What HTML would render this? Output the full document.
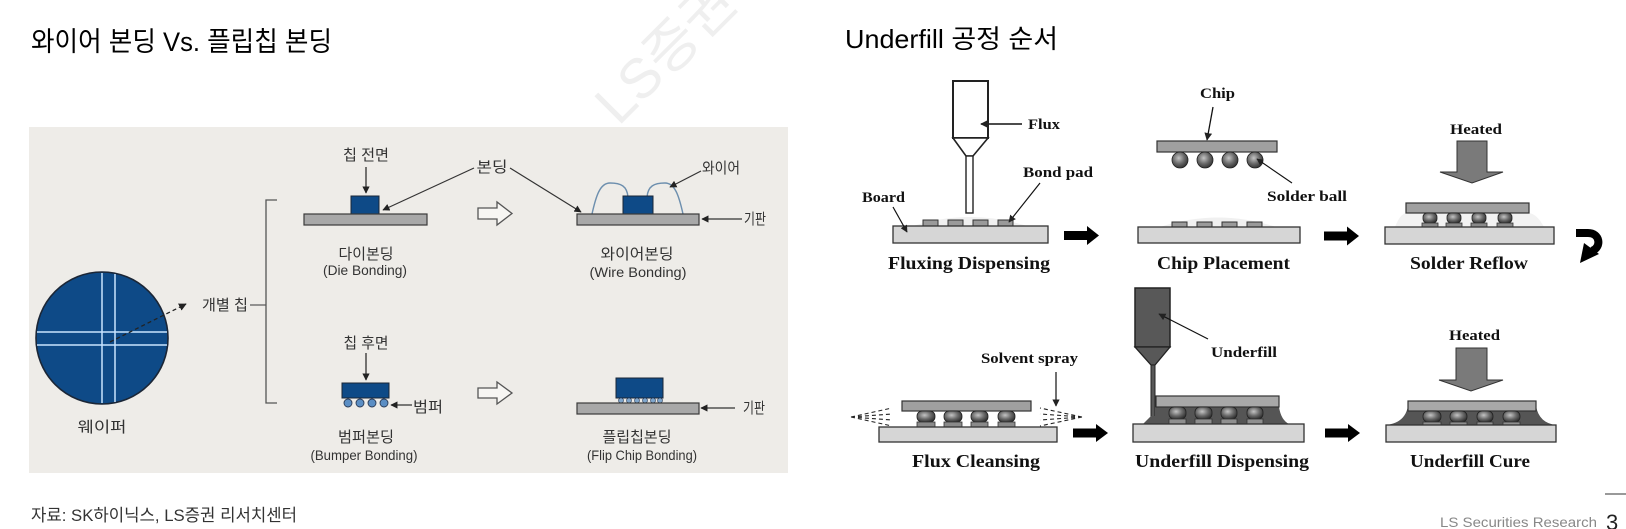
<!DOCTYPE html>
<html><head><meta charset="utf-8">
<style>
html,body{margin:0;padding:0;background:#fff;width:1626px;height:529px;overflow:hidden}
svg{display:block}
.k{font-family:"Liberation Sans","Noto Sans CJK KR",sans-serif;fill:#333}
.s{font-family:"Liberation Serif",serif;font-weight:bold;fill:#111}
</style></head><body>
<svg width="1626" height="529" viewBox="0 0 1626 529" xmlns="http://www.w3.org/2000/svg">
<defs>
<marker id="ah" viewBox="0 0 10 10" refX="9" refY="5" markerWidth="6" markerHeight="6" orient="auto"><path d="M0,0 L10,5 L0,10 z" fill="#222"/></marker>
<radialGradient id="ball" cx="0.42" cy="0.38" r="0.65"><stop offset="0" stop-color="#c4c4c4"/><stop offset="0.55" stop-color="#6a6a6a"/><stop offset="1" stop-color="#303030"/></radialGradient>
</defs>
<rect width="1626" height="529" fill="#fff"/>

<!-- watermark -->
<text x="665" y="72" transform="rotate(-45 665 52)" font-family="Liberation Sans,'Noto Sans CJK KR',sans-serif" font-size="56" fill="#efefef" text-anchor="middle">LS증권</text>

<!-- titles -->
<text x="31" y="51" class="k" style="fill:#000" font-size="27" textLength="301" lengthAdjust="spacingAndGlyphs">와이어 본딩 Vs. 플립칩 본딩</text>
<text x="845" y="48" class="k" style="fill:#000" font-size="26" textLength="213" lengthAdjust="spacingAndGlyphs">Underfill 공정 순서</text>

<!-- LEFT PANEL -->
<rect x="29" y="127" width="759" height="346" fill="#eeece8"/>

<!-- wafer -->
<circle cx="102" cy="338" r="66" fill="#0e4a87" stroke="#1b2636" stroke-width="1.6"/>
<g stroke="#c8e4ff" stroke-width="1.5">
<line x1="102" y1="273" x2="102" y2="403"/>
<line x1="115" y1="274" x2="115" y2="402"/>
<line x1="37" y1="332" x2="167" y2="332"/>
<line x1="37" y1="345" x2="167" y2="345"/>
</g>
<line x1="110" y1="342" x2="186" y2="304" stroke="#222" stroke-width="1.3" stroke-dasharray="4,3" marker-end="url(#ah)"/>
<text x="102" y="432" class="k" font-size="15" text-anchor="middle" textLength="49" lengthAdjust="spacingAndGlyphs">웨이퍼</text>
<text x="225" y="310" class="k" font-size="15" text-anchor="middle" textLength="46" lengthAdjust="spacingAndGlyphs">개별 칩</text>
<line x1="250" y1="305" x2="266" y2="305" stroke="#555" stroke-width="1.2"/>
<path d="M277,200 L266,200 L266,403 L277,403" fill="none" stroke="#555" stroke-width="1.3"/>

<!-- die bonding -->
<text x="366" y="160" class="k" font-size="15" text-anchor="middle" textLength="46" lengthAdjust="spacingAndGlyphs">칩 전면</text>
<line x1="366" y1="167" x2="366" y2="193" stroke="#222" stroke-width="1.2" marker-end="url(#ah)"/>
<rect x="351" y="196" width="28" height="18" fill="#0e4a87" stroke="#1b2636" stroke-width="1"/>
<rect x="304" y="214" width="123" height="11" fill="#a8a8a8" stroke="#3a3a3a" stroke-width="1.2"/>
<text x="366" y="259" class="k" font-size="15" text-anchor="middle" textLength="55" lengthAdjust="spacingAndGlyphs">다이본딩</text>
<text x="365" y="275" class="k" font-size="14" text-anchor="middle" textLength="84" lengthAdjust="spacingAndGlyphs">(Die Bonding)</text>

<!-- bonding label -->
<text x="492" y="172" class="k" font-size="15" text-anchor="middle" textLength="31" lengthAdjust="spacingAndGlyphs">본딩</text>
<line x1="474" y1="168" x2="383" y2="210" stroke="#333" stroke-width="1.2" marker-end="url(#ah)"/>
<line x1="510" y1="168" x2="581" y2="212" stroke="#333" stroke-width="1.2" marker-end="url(#ah)"/>

<!-- hollow arrows -->
<path d="M478,208 L497,208 L497,202 L512,213.5 L497,225 L497,219 L478,219 Z" fill="#f7f6f3" stroke="#555" stroke-width="1.3"/>
<path d="M478,388 L497,388 L497,382 L512,393 L497,404 L497,398 L478,398 Z" fill="#f7f6f3" stroke="#555" stroke-width="1.3"/>

<!-- wire bonding -->
<path d="M592,214 C596,196 600,183 610,183 C621,183 627,186 628,197" fill="none" stroke="#6d8fae" stroke-width="1.4"/>
<path d="M683,214 C679,196 675,183 665,183 C654,183 648,186 647,197" fill="none" stroke="#6d8fae" stroke-width="1.4"/>
<rect x="623" y="196" width="30" height="18" fill="#0e4a87" stroke="#1b2636" stroke-width="1"/>
<rect x="577" y="214" width="122" height="11" fill="#a8a8a8" stroke="#3a3a3a" stroke-width="1.2"/>
<text x="721" y="173" class="k" font-size="15" text-anchor="middle" textLength="38" lengthAdjust="spacingAndGlyphs">와이어</text>
<line x1="701" y1="171" x2="670" y2="187" stroke="#333" stroke-width="1.2" marker-end="url(#ah)"/>
<line x1="742" y1="219" x2="702" y2="219" stroke="#333" stroke-width="1.2" marker-end="url(#ah)"/>
<text x="755" y="224" class="k" font-size="15" text-anchor="middle" textLength="22" lengthAdjust="spacingAndGlyphs">기판</text>
<text x="637" y="259" class="k" font-size="15" text-anchor="middle" textLength="73" lengthAdjust="spacingAndGlyphs">와이어본딩</text>
<text x="638" y="277" class="k" font-size="14" text-anchor="middle" textLength="97" lengthAdjust="spacingAndGlyphs">(Wire Bonding)</text>

<!-- bumper bonding -->
<text x="366" y="348" class="k" font-size="15" text-anchor="middle" textLength="45" lengthAdjust="spacingAndGlyphs">칩 후면</text>
<line x1="366" y1="353" x2="366" y2="380" stroke="#222" stroke-width="1.2" marker-end="url(#ah)"/>
<rect x="342" y="383" width="47" height="15" fill="#0e4a87" stroke="#1b2636" stroke-width="1"/>
<g fill="#5b8ec4" stroke="#2a3a55" stroke-width="0.9">
<circle cx="348" cy="403" r="4"/><circle cx="360" cy="403" r="4"/><circle cx="372" cy="403" r="4"/><circle cx="384" cy="403" r="4"/>
</g>
<line x1="412" y1="405" x2="391" y2="405" stroke="#333" stroke-width="1.2" marker-end="url(#ah)"/>
<text x="428" y="412" class="k" font-size="15" text-anchor="middle" textLength="30" lengthAdjust="spacingAndGlyphs">범퍼</text>
<text x="366" y="442" class="k" font-size="15" text-anchor="middle" textLength="56" lengthAdjust="spacingAndGlyphs">범퍼본딩</text>
<text x="364" y="460" class="k" font-size="14" text-anchor="middle" textLength="107" lengthAdjust="spacingAndGlyphs">(Bumper Bonding)</text>

<!-- flip chip bonding -->
<rect x="616" y="378" width="47" height="20" fill="#0e4a87" stroke="#1b2636" stroke-width="1"/>
<g fill="#7fa6cc" stroke="#2a3a55" stroke-width="0.6">
<circle cx="621" cy="400.5" r="2.5"/><circle cx="629" cy="400.5" r="2.5"/><circle cx="637" cy="400.5" r="2.5"/><circle cx="645" cy="400.5" r="2.5"/><circle cx="653" cy="400.5" r="2.5"/><circle cx="660" cy="400.5" r="2.5"/>
</g>
<rect x="577" y="403" width="122" height="11" fill="#a8a8a8" stroke="#3a3a3a" stroke-width="1.2"/>
<line x1="735" y1="408" x2="701" y2="408" stroke="#333" stroke-width="1.2" marker-end="url(#ah)"/>
<text x="754" y="413" class="k" font-size="15" text-anchor="middle" textLength="22" lengthAdjust="spacingAndGlyphs">기판</text>
<text x="637" y="442" class="k" font-size="15" text-anchor="middle" textLength="69" lengthAdjust="spacingAndGlyphs">플립칩본딩</text>
<text x="642" y="460" class="k" font-size="14" text-anchor="middle" textLength="110" lengthAdjust="spacingAndGlyphs">(Flip Chip Bonding)</text>

<!-- RIGHT DIAGRAM -->
<!-- Fluxing Dispensing -->
<rect x="953" y="81" width="35" height="57" fill="#fff" stroke="#222" stroke-width="2"/>
<polygon points="953,138 988,138 973,156 966,156" fill="#fff" stroke="#222" stroke-width="1.6"/>
<rect x="966" y="156" width="7" height="57" fill="#fff" stroke="#222" stroke-width="1.4"/>
<line x1="1022" y1="124" x2="981" y2="124" stroke="#111" stroke-width="1.5" marker-end="url(#ah)"/>
<text x="1028" y="129" class="s" font-size="15" textLength="32" lengthAdjust="spacingAndGlyphs">Flux</text>
<text x="1023" y="177" class="s" font-size="15" textLength="70" lengthAdjust="spacingAndGlyphs">Bond pad</text>
<text x="862" y="202" class="s" font-size="15" textLength="43" lengthAdjust="spacingAndGlyphs">Board</text>
<path d="M913,226 Q970,208 1027,226 Z" fill="#f0f0f0"/>
<g fill="#9a9a9a" stroke="#333" stroke-width="1">
<rect x="923" y="220" width="15" height="6"/><rect x="948" y="220" width="15" height="6"/><rect x="973" y="220" width="15" height="6"/><rect x="998" y="220" width="15" height="6"/>
</g>
<rect x="893" y="226" width="155" height="17" fill="#d6d6d6" stroke="#333" stroke-width="1.3"/>
<line x1="1040" y1="183" x2="1009" y2="222" stroke="#111" stroke-width="1.2" marker-end="url(#ah)"/>
<line x1="893" y1="207" x2="907" y2="232" stroke="#111" stroke-width="1.2" marker-end="url(#ah)"/>
<text x="888" y="269" class="s" font-size="18" textLength="162" lengthAdjust="spacingAndGlyphs">Fluxing Dispensing</text>

<!-- black arrows -->
<g fill="#000">
<rect x="1064" y="231" width="25" height="9"/><polygon points="1087,226 1099,235.5 1087,245"/>
<rect x="1324" y="231.5" width="25" height="9"/><polygon points="1347,226.5 1359,236 1347,245.5"/>
<rect x="1073" y="428.5" width="25" height="9"/><polygon points="1096,424 1108,433 1096,442"/>
<rect x="1325" y="428.5" width="25" height="9"/><polygon points="1348,424 1360,433 1348,442"/>
</g>
<!-- curved arrow -->
<path d="M1576,233 L1588,233 C1600,233 1602,247 1592,251" fill="none" stroke="#000" stroke-width="8"/>
<polygon points="1580,263 1584,243 1599,254" fill="#000"/>

<!-- Chip Placement -->
<text x="1200" y="98" class="s" font-size="15" textLength="35" lengthAdjust="spacingAndGlyphs">Chip</text>
<line x1="1213" y1="107" x2="1207" y2="140" stroke="#111" stroke-width="1.3" marker-end="url(#ah)"/>
<rect x="1157" y="141" width="120" height="11" fill="#a0a0a0" stroke="#333" stroke-width="1.2"/>
<g fill="url(#ball)" stroke="#222" stroke-width="0.8">
<circle cx="1180" cy="160" r="8"/><circle cx="1205" cy="160" r="8"/><circle cx="1230" cy="160" r="8"/><circle cx="1255" cy="160" r="8"/>
</g>
<line x1="1292" y1="183" x2="1257" y2="159" stroke="#111" stroke-width="1.1" marker-end="url(#ah)"/>
<text x="1267" y="201" class="s" font-size="15" textLength="80" lengthAdjust="spacingAndGlyphs">Solder ball</text>
<path d="M1160,227 Q1218,208 1276,227 Z" fill="#f0f0f0"/>
<g fill="#9a9a9a" stroke="#333" stroke-width="1">
<rect x="1172" y="222" width="15" height="5"/><rect x="1197" y="222" width="15" height="5"/><rect x="1222" y="222" width="15" height="5"/><rect x="1247" y="222" width="15" height="5"/>
</g>
<rect x="1138" y="227" width="162" height="16" fill="#d6d6d6" stroke="#333" stroke-width="1.3"/>
<text x="1157" y="269" class="s" font-size="18" textLength="133" lengthAdjust="spacingAndGlyphs">Chip Placement</text>

<!-- Solder Reflow -->
<text x="1450" y="134" class="s" font-size="15" textLength="52" lengthAdjust="spacingAndGlyphs">Heated</text>
<polygon points="1457,141 1487,141 1487,172 1503,172 1472,183 1440,172 1457,172" fill="#7a7a7a" stroke="#333" stroke-width="1"/>
<path d="M1395,227 Q1400,214 1406,213 L1529,213 Q1537,214 1544,227 Z" fill="#f2f2f2"/>
<rect x="1406" y="203" width="123" height="10" fill="#a0a0a0" stroke="#333" stroke-width="1.2"/>
<g fill="url(#ball)" stroke="#222" stroke-width="0.8">
<rect x="1423" y="213" width="14" height="10" rx="4"/><rect x="1447" y="213" width="14" height="10" rx="4"/><rect x="1472" y="213" width="14" height="10" rx="4"/><rect x="1498" y="213" width="14" height="10" rx="4"/>
</g>
<g fill="#8a8a8a" stroke="#333" stroke-width="0.8">
<rect x="1422" y="223" width="16" height="4"/><rect x="1446" y="223" width="16" height="4"/><rect x="1471" y="223" width="16" height="4"/><rect x="1497" y="223" width="16" height="4"/>
</g>
<rect x="1385" y="227" width="169" height="17" fill="#d6d6d6" stroke="#333" stroke-width="1.3"/>
<text x="1410" y="269" class="s" font-size="18" textLength="118" lengthAdjust="spacingAndGlyphs">Solder Reflow</text>

<!-- Flux Cleansing -->
<text x="981" y="363" class="s" font-size="15" textLength="97" lengthAdjust="spacingAndGlyphs">Solvent spray</text>
<line x1="1056" y1="372" x2="1056" y2="406" stroke="#111" stroke-width="1.2" marker-end="url(#ah)"/>
<g stroke="#222" stroke-width="1.1" stroke-dasharray="4,3" fill="none">
<path d="M851,417 L892,408 M851,417 L892,414 M851,417 L892,420 M851,417 L892,426"/>
<path d="M1082,417 L1040,408 M1082,417 L1040,414 M1082,417 L1040,420 M1082,417 L1040,426"/>
</g>
<rect x="902" y="401" width="129" height="10" fill="#a0a0a0" stroke="#333" stroke-width="1.2"/>
<g fill="url(#ball)" stroke="#222" stroke-width="0.8">
<rect x="917" y="411" width="18" height="11" rx="5"/><rect x="944" y="411" width="18" height="11" rx="5"/><rect x="971" y="411" width="17" height="11" rx="5"/><rect x="998" y="411" width="17" height="11" rx="5"/>
</g>
<g fill="#8a8a8a" stroke="#333" stroke-width="0.8">
<rect x="917" y="422" width="18" height="5"/><rect x="944" y="422" width="18" height="5"/><rect x="971" y="422" width="17" height="5"/><rect x="998" y="422" width="17" height="5"/>
</g>
<rect x="879" y="427" width="178" height="15" fill="#d6d6d6" stroke="#333" stroke-width="1.3"/>
<text x="912" y="467" class="s" font-size="18" textLength="128" lengthAdjust="spacingAndGlyphs">Flux Cleansing</text>

<!-- Underfill Dispensing -->
<rect x="1135" y="288" width="35" height="59" fill="#585858" stroke="#222" stroke-width="1.5"/>
<polygon points="1135,347 1170,347 1155,365 1151,365" fill="#585858" stroke="#222" stroke-width="1.3"/>
<rect x="1151" y="365" width="4" height="55" fill="#585858" stroke="#222" stroke-width="1"/>
<line x1="1208" y1="339" x2="1159" y2="314" stroke="#111" stroke-width="1.2" marker-end="url(#ah)"/>
<text x="1211" y="357" class="s" font-size="15" textLength="66" lengthAdjust="spacingAndGlyphs">Underfill</text>
<path d="M1143,424 L1151,416 L1155,416 L1155,407 L1279,407 Q1281,420 1289,424 Z" fill="#555"/>
<rect x="1156" y="396" width="123" height="11" fill="#a8a8a8" stroke="#333" stroke-width="1.2"/>
<g fill="url(#ball)" stroke="#222" stroke-width="0.8">
<rect x="1169" y="407" width="17" height="12" rx="5"/><rect x="1195" y="407" width="17" height="12" rx="5"/><rect x="1221" y="407" width="16" height="12" rx="5"/><rect x="1247" y="407" width="16" height="12" rx="5"/>
</g>
<g fill="#8f8f8f" stroke="#333" stroke-width="0.8">
<rect x="1169" y="419" width="17" height="5"/><rect x="1195" y="419" width="17" height="5"/><rect x="1221" y="419" width="16" height="5"/><rect x="1247" y="419" width="16" height="5"/>
</g>
<rect x="1133" y="424" width="171" height="18" fill="#d6d6d6" stroke="#333" stroke-width="1.3"/>
<text x="1135" y="467" class="s" font-size="18" textLength="174" lengthAdjust="spacingAndGlyphs">Underfill Dispensing</text>

<!-- Underfill Cure -->
<text x="1449" y="340" class="s" font-size="15" textLength="51" lengthAdjust="spacingAndGlyphs">Heated</text>
<polygon points="1456,348 1487,348 1487,380 1503,380 1471,391 1439,380 1456,380" fill="#7a7a7a" stroke="#333" stroke-width="1"/>
<path d="M1386,425 Q1405,423 1408,406 L1536,406 Q1539,423 1556,425 Z" fill="#555"/>
<rect x="1408" y="401" width="128" height="10" fill="#a8a8a8" stroke="#333" stroke-width="1.2"/>
<g fill="url(#ball)" stroke="#222" stroke-width="0.8">
<rect x="1423" y="411" width="18" height="11" rx="5"/><rect x="1450" y="411" width="17" height="11" rx="5"/><rect x="1477" y="411" width="16" height="11" rx="5"/><rect x="1503" y="411" width="17" height="11" rx="5"/>
</g>
<g fill="#8f8f8f" stroke="#333" stroke-width="0.8">
<rect x="1423" y="422" width="18" height="3"/><rect x="1450" y="422" width="17" height="3"/><rect x="1477" y="422" width="16" height="3"/><rect x="1503" y="422" width="17" height="3"/>
</g>
<rect x="1386" y="425" width="170" height="17" fill="#d6d6d6" stroke="#333" stroke-width="1.3"/>
<text x="1410" y="467" class="s" font-size="18" textLength="120" lengthAdjust="spacingAndGlyphs">Underfill Cure</text>

<!-- footer -->
<text x="31" y="521" class="k" font-size="17" textLength="266" lengthAdjust="spacingAndGlyphs">자료: SK하이닉스, LS증권 리서치센터</text>
<rect x="1605" y="493" width="21" height="2" fill="#999"/>
<text x="1440" y="527" font-family="Liberation Sans,sans-serif" font-size="14" fill="#888" textLength="157" lengthAdjust="spacingAndGlyphs">LS Securities  Research</text>
<text x="1606" y="530" font-family="Liberation Sans,sans-serif" font-size="22" fill="#222">3</text>
</svg>
</body></html>
